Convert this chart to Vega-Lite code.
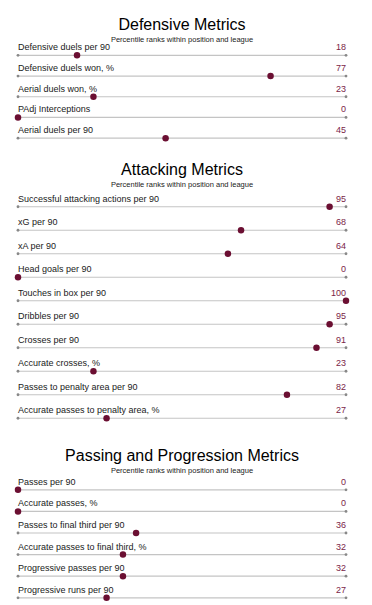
{
  "$schema": "https://vega.github.io/schema/vega-lite/v6.json",
  "padding": {"left": 14, "right": 18, "top": 16, "bottom": 0},
  "background": "white",
  "spacing": 13,
  "config": {
    "view": {"stroke": null},
    "font": "Liberation Sans",
    "title": {"font": "Liberation Sans", "fontSize": 16, "fontWeight": "normal", "color": "#000000", "subtitleFont": "Liberation Sans", "subtitleFontSize": 7.5, "subtitleColor": "#222222", "subtitlePadding": 0, "anchor": "middle", "offset": 3}
  },
  "datasets": {
    "defensive": [
      {"metric": "Defensive duels per 90", "value": 18},
      {"metric": "Defensive duels won, %", "value": 77},
      {"metric": "Aerial duels won, %", "value": 23},
      {"metric": "PAdj Interceptions", "value": 0},
      {"metric": "Aerial duels per 90", "value": 45}
    ],
    "attacking": [
      {"metric": "Successful attacking actions per 90", "value": 95},
      {"metric": "xG per 90", "value": 68},
      {"metric": "xA per 90", "value": 64},
      {"metric": "Head goals per 90", "value": 0},
      {"metric": "Touches in box per 90", "value": 100},
      {"metric": "Dribbles per 90", "value": 95},
      {"metric": "Crosses per 90", "value": 91},
      {"metric": "Accurate crosses, %", "value": 23},
      {"metric": "Passes to penalty area per 90", "value": 82},
      {"metric": "Accurate passes to penalty area, %", "value": 27}
    ],
    "passing": [
      {"metric": "Passes per 90", "value": 0},
      {"metric": "Accurate passes, %", "value": 0},
      {"metric": "Passes to final third per 90", "value": 36},
      {"metric": "Accurate passes to final third, %", "value": 32},
      {"metric": "Progressive passes per 90", "value": 32},
      {"metric": "Progressive runs per 90", "value": 27}
    ]
  },
  "vconcat": [
    {
      "title": {"text": "Defensive Metrics", "subtitle": "Percentile ranks within position and league", "offset": 0},
      "data": {"name": "defensive"},
      "width": 328,
      "height": {"step": 20.7},
      "encoding": {
        "y": {"field": "metric", "type": "nominal", "sort": null, "axis": null, "scale": {"type": "point", "padding": 0.5}}
      },
      "layer": [
        {"mark": {"type": "rule", "color": "#c4c4c4", "strokeWidth": 1.2}, "encoding": {"x": {"datum": 0, "type": "quantitative", "scale": {"domain": [0, 100]}, "axis": null}, "x2": {"datum": 100}}},
        {"mark": {"type": "circle", "color": "#888888", "size": 8, "opacity": 1}, "encoding": {"x": {"datum": 0, "type": "quantitative"}}},
        {"mark": {"type": "circle", "color": "#888888", "size": 8, "opacity": 1}, "encoding": {"x": {"datum": 100, "type": "quantitative"}}},
        {"mark": {"type": "circle", "color": "#6b0f32", "size": 42, "opacity": 1}, "encoding": {"x": {"field": "value", "type": "quantitative"}}},
        {"mark": {"type": "text", "align": "left", "baseline": "alphabetic", "dy": -5, "fontSize": 9, "color": "#1a1a1a"}, "encoding": {"x": {"datum": 0, "type": "quantitative"}, "text": {"field": "metric"}}},
        {"mark": {"type": "text", "align": "right", "baseline": "alphabetic", "dy": -5, "fontSize": 9, "color": "#7a2447"}, "encoding": {"x": {"datum": 100, "type": "quantitative"}, "text": {"field": "value", "type": "quantitative"}}}
      ]
    },
    {
      "title": {"text": "Attacking Metrics", "subtitle": "Percentile ranks within position and league", "offset": 6},
      "data": {"name": "attacking"},
      "width": 328,
      "height": {"step": 23.5},
      "encoding": {
        "y": {"field": "metric", "type": "nominal", "sort": null, "axis": null, "scale": {"type": "point", "padding": 0.606, "align": 0.412}}
      },
      "layer": [
        {"mark": {"type": "rule", "color": "#c4c4c4", "strokeWidth": 1.2}, "encoding": {"x": {"datum": 0, "type": "quantitative", "scale": {"domain": [0, 100]}, "axis": null}, "x2": {"datum": 100}}},
        {"mark": {"type": "circle", "color": "#888888", "size": 8, "opacity": 1}, "encoding": {"x": {"datum": 0, "type": "quantitative"}}},
        {"mark": {"type": "circle", "color": "#888888", "size": 8, "opacity": 1}, "encoding": {"x": {"datum": 100, "type": "quantitative"}}},
        {"mark": {"type": "circle", "color": "#6b0f32", "size": 42, "opacity": 1}, "encoding": {"x": {"field": "value", "type": "quantitative"}}},
        {"mark": {"type": "text", "align": "left", "baseline": "alphabetic", "dy": -5, "fontSize": 9, "color": "#1a1a1a"}, "encoding": {"x": {"datum": 0, "type": "quantitative"}, "text": {"field": "metric"}}},
        {"mark": {"type": "text", "align": "right", "baseline": "alphabetic", "dy": -5, "fontSize": 9, "color": "#7a2447"}, "encoding": {"x": {"datum": 100, "type": "quantitative"}, "text": {"field": "value", "type": "quantitative"}}}
      ]
    },
    {
      "title": {"text": "Passing and Progression Metrics", "subtitle": "Percentile ranks within position and league", "offset": 3},
      "data": {"name": "passing"},
      "width": 328,
      "height": {"step": 21.6},
      "encoding": {
        "y": {"field": "metric", "type": "nominal", "sort": null, "axis": null, "scale": {"type": "point", "padding": 0.5}}
      },
      "layer": [
        {"mark": {"type": "rule", "color": "#c4c4c4", "strokeWidth": 1.2}, "encoding": {"x": {"datum": 0, "type": "quantitative", "scale": {"domain": [0, 100]}, "axis": null}, "x2": {"datum": 100}}},
        {"mark": {"type": "circle", "color": "#888888", "size": 8, "opacity": 1}, "encoding": {"x": {"datum": 0, "type": "quantitative"}}},
        {"mark": {"type": "circle", "color": "#888888", "size": 8, "opacity": 1}, "encoding": {"x": {"datum": 100, "type": "quantitative"}}},
        {"mark": {"type": "circle", "color": "#6b0f32", "size": 42, "opacity": 1}, "encoding": {"x": {"field": "value", "type": "quantitative"}}},
        {"mark": {"type": "text", "align": "left", "baseline": "alphabetic", "dy": -5, "fontSize": 9, "color": "#1a1a1a"}, "encoding": {"x": {"datum": 0, "type": "quantitative"}, "text": {"field": "metric"}}},
        {"mark": {"type": "text", "align": "right", "baseline": "alphabetic", "dy": -5, "fontSize": 9, "color": "#7a2447"}, "encoding": {"x": {"datum": 100, "type": "quantitative"}, "text": {"field": "value", "type": "quantitative"}}}
      ]
    }
  ]
}
